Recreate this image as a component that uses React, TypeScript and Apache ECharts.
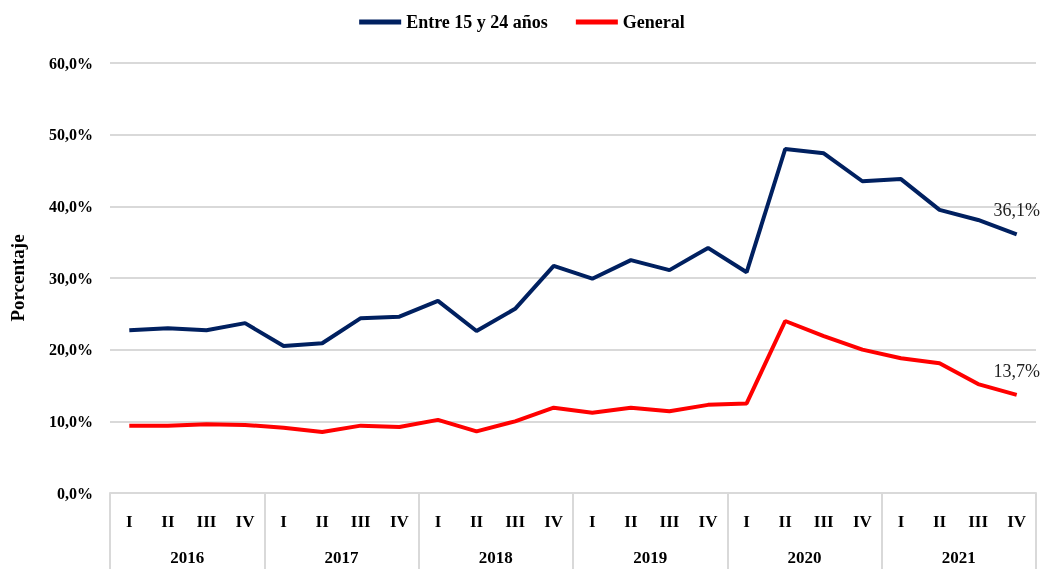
import React, { useEffect, useRef } from "react";
import * as echarts from "echarts";

const quarters = ["I", "II", "III", "IV"];
const years = ["2016", "2017", "2018", "2019", "2020", "2021"];
const youthSeries = [
  22.7, 23.0, 22.7, 23.7,
  20.5, 20.9, 24.4, 24.6,
  26.8, 22.6, 25.7, 31.7,
  29.9, 32.5, 31.1, 34.2,
  30.8, 48.0, 47.4, 43.5,
  43.8, 39.5, 38.1, 36.1,
];
const generalSeries = [
  9.4, 9.4, 9.6, 9.5,
  9.1, 8.5, 9.4, 9.2,
  10.2, 8.6, 10.0, 11.9,
  11.2, 11.9, 11.4, 12.3,
  12.5, 24.0, 21.9, 20.0,
  18.8, 18.1, 15.2, 13.7,
];
const yTicks = { min: 0, max: 60, interval: 10 };

const FONT = "'Liberation Serif', serif";
const fmt = (v: number) => v.toFixed(1).replace(".", ",") + "%";

export default function App() {
  const ref = useRef<HTMLDivElement>(null);
  useEffect(() => {
    if (!ref.current) return;
    const chart = echarts.init(ref.current, null, { renderer: "svg" });
    const categories: string[] = [];
    years.forEach(() => quarters.forEach((q) => categories.push(q)));
    const withLastLabel = (arr: number[]) =>
      arr.map((v, i) =>
        i === arr.length - 1
          ? {
              value: v,
              label: {
                show: true,
                position: "top",
                distance: 15,
                formatter: () => fmt(v),
                fontFamily: FONT,
                fontSize: 18,
                color: "#222",
              },
            }
          : v
      );
    chart.setOption({
      animation: false,
      textStyle: { fontFamily: FONT },
      legend: {
        top: 8,
        left: "center",
        itemWidth: 42,
        itemHeight: 5,
        itemGap: 28,
        icon: "rect",
        textStyle: { fontFamily: FONT, fontSize: 18, fontWeight: "bold", color: "#000" },
        data: ["Entre 15 y 24 años", "General"],
      },
      grid: { left: 108, right: 8, top: 63, bottom: 76, containLabel: false },
      xAxis: [
        {
          type: "category",
          data: categories,
          boundaryGap: true,
          axisLine: { show: true, lineStyle: { color: "#d9d9d9", width: 2 } },
          axisTick: { show: false },
          axisLabel: {
            interval: 0,
            margin: 20,
            fontFamily: FONT,
            fontSize: 17,
            fontWeight: "bold",
            color: "#000",
          },
        },
        {
          type: "category",
          data: years,
          position: "bottom",
          boundaryGap: true,
          axisLine: { show: false },
          axisTick: {
            show: true,
            alignWithLabel: false,
            interval: 0,
            length: 78,
            lineStyle: { color: "#d9d9d9", width: 2 },
          },
          axisLabel: {
            interval: 0,
            margin: 56,
            fontFamily: FONT,
            fontSize: 17,
            fontWeight: "bold",
            color: "#000",
          },
        },
      ],
      yAxis: {
        type: "value",
        min: yTicks.min,
        max: yTicks.max,
        interval: yTicks.interval,
        name: "Porcentaje",
        nameLocation: "middle",
        nameGap: 83,
        nameRotate: 90,
        nameTextStyle: { fontFamily: FONT, fontSize: 19, fontWeight: "bold", color: "#000" },
        axisLine: { show: false },
        axisTick: { show: false },
        splitLine: { lineStyle: { color: "#d9d9d9", width: 2 } },
        axisLabel: {
          margin: 17,
          formatter: (v: number) => fmt(v),
          fontFamily: FONT,
          fontSize: 16,
          fontWeight: "bold",
          color: "#000",
        },
      },
      series: [
        {
          name: "Entre 15 y 24 años",
          type: "line",
          xAxisIndex: 0,
          data: withLastLabel(youthSeries),
          symbol: "circle",
          symbolSize: 0.1,
          showSymbol: true,
          lineStyle: { color: "#002060", width: 4 },
          itemStyle: { color: "#002060" },
        },
        {
          name: "General",
          type: "line",
          xAxisIndex: 0,
          data: withLastLabel(generalSeries),
          symbol: "circle",
          symbolSize: 0.1,
          showSymbol: true,
          lineStyle: { color: "#ff0000", width: 4 },
          itemStyle: { color: "#ff0000" },
        },
      ],
    });
    return () => chart.dispose();
  }, []);
  return (
    <div
      ref={ref}
      style={{ position: "fixed", left: 0, top: 0, width: 1044, height: 569 }}
    />
  );
}
